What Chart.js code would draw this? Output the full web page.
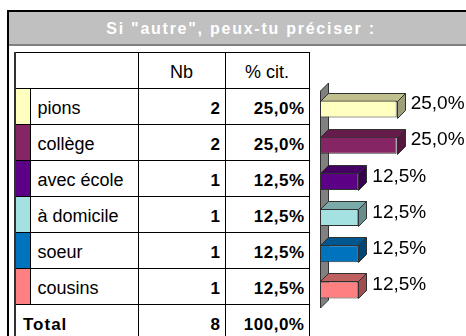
<!DOCTYPE html>
<html lang="fr">

<head>
  <meta charset="UTF-8">
  <title>Si "autre", peux-tu préciser :</title>
  <script src="https://cdn.jsdelivr.net/npm/chart.js"></script>
  <style>
    body {
      margin: 0;
      width: 466px;
      height: 336px;
      overflow: hidden;
      position: relative;
      background: #fff;
      font-family: 'Liberation Sans', Arial, sans-serif;
    }

    #cadre {
      position: absolute;
      left: 7px;
      top: 10px;
      width: 464px;
      height: 400px;
      border-left: 2px solid #000;
      border-top: 2px solid #000;
    }

    #titre {
      height: 32px;
      line-height: 33px;
      background: #c0c0c0;
      border-bottom: 2px solid #808080;
      color: #fff;
      font-weight: bold;
      font-size: 16px;
      letter-spacing: 1.75px;
      text-align: center;
    }

    #tableau {
      position: absolute;
      left: 14px;
      top: 52px;
      border-collapse: collapse;
      table-layout: fixed;
      width: 294px;
    }

    #tableau tr {
      height: 36px;
    }

    #tableau td {
      border: 1px solid #000;
      padding: 4px 5px 0 7px;
      font-size: 18px;
      color: #000;
      vertical-align: middle;
      white-space: nowrap;
    }

    #tableau td.gauche {
      border-left: 2px solid #303030;
    }

    #tableau td.couleur {
      padding: 0;
    }

    #tableau td.centre {
      text-align: center;
      padding-left: 0;
      padding-right: 0;
    }

    #tableau td.nombre {
      text-align: right;
      font-weight: bold;
      font-size: 17px;
      letter-spacing: 0.5px;
      padding-right: 4px;
    }

    #tableau td.total {
      font-weight: bold;
      font-size: 17px;
      letter-spacing: 1px;
      padding-left: 7px;
    }

    #zoneGraphique {
      position: absolute;
      left: 308px;
      top: 60px;
      width: 158px;
      height: 276px;
    }
  </style>
</head>

<body>
  <div id="cadre">
    <div id="titre">Si "autre", peux-tu préciser :</div>
  </div>
  <table id="tableau">
    <colgroup>
      <col style="width: 15px">
      <col style="width: 108px">
      <col style="width: 87px">
      <col style="width: 84px">
    </colgroup>
    <tbody id="lignes"></tbody>
  </table>
  <div id="zoneGraphique"><canvas id="graphique"></canvas></div>
</body>

</html>

<script>
  const reponses = ['pions', 'collège', 'avec école', 'à domicile', 'soeur', 'cousins'];
  const nombres = [2, 2, 1, 1, 1, 1];
  const pourcentages = [25.0, 25.0, 12.5, 12.5, 12.5, 12.5];
  const couleurs = ['#FFFFC0', '#862563', '#5C0085', '#A4E2E2', '#0073BF', '#FF8080'];

  function formatPct(v) {
    return v.toFixed(1).replace('.', ',') + '%';
  }

  // tableau à gauche
  const lignes = document.getElementById('lignes');
  let html = '<tr><td class="gauche" colspan="2"></td><td class="centre">Nb</td><td class="centre">% cit.</td></tr>';
  reponses.forEach((r, i) => {
    html += '<tr>' +
      '<td class="gauche couleur" style="background:' + couleurs[i] + '"></td>' +
      '<td>' + r + '</td>' +
      '<td class="nombre">' + nombres[i] + '</td>' +
      '<td class="nombre">' + formatPct(pourcentages[i]) + '</td>' +
      '</tr>';
  });
  const total = nombres.reduce((a, b) => a + b, 0);
  const totalPct = pourcentages.reduce((a, b) => a + b, 0);
  html += '<tr><td class="gauche total" colspan="2">Total</td>' +
    '<td class="nombre">' + total + '</td>' +
    '<td class="nombre">' + formatPct(totalPct) + '</td></tr>';
  lignes.innerHTML = html;

  // barres en relief
  const profondeur = 8;

  function assombrir(hex, f) {
    const n = parseInt(hex.slice(1), 16);
    const r = Math.round(((n >> 16) & 255) * f);
    const g = Math.round(((n >> 8) & 255) * f);
    const b = Math.round((n & 255) * f);
    return 'rgb(' + r + ',' + g + ',' + b + ')';
  }

  const relief = {
    id: 'relief',
    beforeDatasetsDraw(chart) {
      const ctx = chart.ctx;
      const a = chart.chartArea;
      const x0 = Math.round(chart.scales.x.getPixelForValue(0)) + 0.5;
      const d = profondeur;
      ctx.save();
      ctx.lineWidth = 1;
      ctx.strokeStyle = '#303030';

      // mur gris derrière les barres
      ctx.fillStyle = '#808080';
      ctx.beginPath();
      ctx.moveTo(x0, a.bottom);
      ctx.lineTo(x0, a.top);
      ctx.lineTo(x0 + d, a.top - d);
      ctx.lineTo(x0 + d, a.bottom - d);
      ctx.closePath();
      ctx.fill();
      ctx.stroke();

      const meta = chart.getDatasetMeta(0);
      meta.data.forEach((bar, i) => {
        const p = bar.getProps(['x', 'y', 'base', 'height'], true);
        const x = Math.round(p.x) + 0.5;
        const base = Math.round(p.base) + 0.5;
        const haut = Math.round(p.y - p.height / 2) + 0.5;
        const bas = Math.round(p.y + p.height / 2) + 0.5;

        // dessus
        ctx.fillStyle = assombrir(couleurs[i], 0.75);
        ctx.beginPath();
        ctx.moveTo(base, haut);
        ctx.lineTo(x, haut);
        ctx.lineTo(x + d, haut - d);
        ctx.lineTo(base + d, haut - d);
        ctx.closePath();
        ctx.fill();
        ctx.stroke();

        // côté
        ctx.fillStyle = assombrir(couleurs[i], 0.62);
        ctx.beginPath();
        ctx.moveTo(x, haut);
        ctx.lineTo(x + d, haut - d);
        ctx.lineTo(x + d, bas - d);
        ctx.lineTo(x, bas);
        ctx.closePath();
        ctx.fill();
        ctx.stroke();
      });
      ctx.restore();
    },
    afterDatasetsDraw(chart) {
      const ctx = chart.ctx;
      const meta = chart.getDatasetMeta(0);
      ctx.save();
      ctx.fillStyle = '#000';
      ctx.font = '19px "Liberation Sans", Arial, sans-serif';
      ctx.textBaseline = 'middle';
      ctx.textAlign = 'left';
      meta.data.forEach((bar, i) => {
        const p = bar.getProps(['x', 'y'], true);
        ctx.fillText(formatPct(pourcentages[i]), p.x + profondeur + 6, p.y - 5);
      });
      ctx.restore();
    }
  };

  const data = {
    labels: reponses,
    datasets: [{
      data: pourcentages,
      backgroundColor: couleurs,
      borderColor: '#303030',
      borderWidth: 1,
      borderSkipped: false,
      barPercentage: 0.47,
      categoryPercentage: 1
    }]
  };

  const config = {
    type: 'bar',
    data: data,
    options: {
      indexAxis: 'y',
      responsive: true,
      maintainAspectRatio: false,
      animation: false,
      events: [],
      layout: {
        padding: { left: 12, right: 54, top: 31, bottom: 28 }
      },
      plugins: {
        legend: { display: false },
        tooltip: { enabled: false }
      },
      scales: {
        x: { display: false, min: 0, max: 30 },
        y: { display: false }
      }
    },
    plugins: [relief]
  };

  const graphique = new Chart(document.getElementById('graphique'), config);
</script>
